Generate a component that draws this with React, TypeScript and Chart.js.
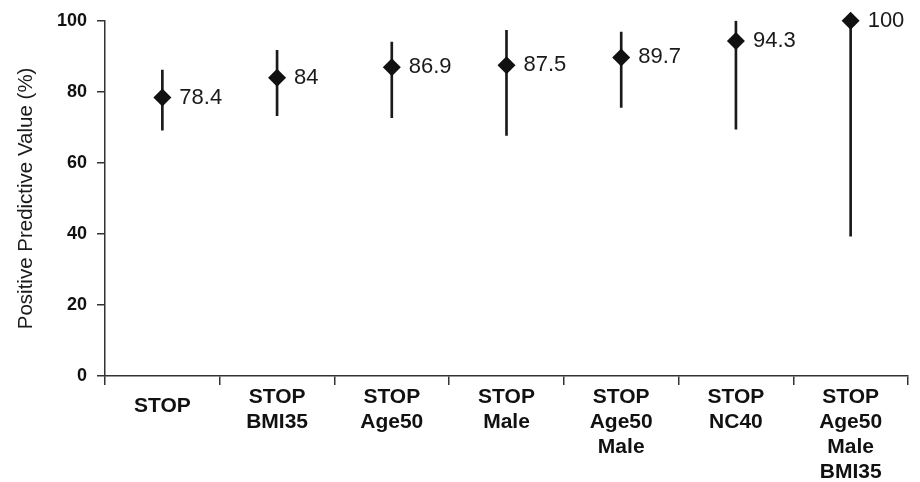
import React, { useEffect, useRef } from "react";
import { Chart, registerables } from "chart.js";

Chart.register(...registerables);

const categories: string[][] = [
  ["STOP"],
  ["STOP", "BMI35"],
  ["STOP", "Age50"],
  ["STOP", "Male"],
  ["STOP", "Age50", "Male"],
  ["STOP", "NC40"],
  ["STOP", "Age50", "Male", "BMI35"],
];
const ppv: number[] = [78.4, 84, 86.9, 87.5, 89.7, 94.3, 100];
const ciLow: number[] = [69.2, 73.3, 72.7, 67.7, 75.6, 69.5, 39.4];
const ciHigh: number[] = [86.1, 91.7, 94.0, 97.3, 96.8, 100, 100];
const yTicks: number[] = [0, 20, 40, 60, 80, 100];

const FAMILY = "'Liberation Sans', Arial, Helvetica, sans-serif";

const valueLabels = {
  id: "valueLabels",
  afterDatasetsDraw(chart: any) {
    const meta = chart.getDatasetMeta(1);
    const ctx = chart.ctx;
    ctx.save();
    ctx.font = `22px ${FAMILY}`;
    ctx.fillStyle = "#1a1a1a";
    ctx.textAlign = "left";
    ctx.textBaseline = "middle";
    meta.data.forEach((el: any, i: number) => {
      ctx.fillText(String(ppv[i]), el.x + 17, el.y);
    });
    ctx.restore();
  },
};

export default function App() {
  const ref = useRef<HTMLCanvasElement>(null);
  useEffect(() => {
    if (!ref.current) return;
    const chart = new Chart(ref.current, {
      data: {
        labels: categories,
        datasets: [
          {
            type: "bar",
            data: ciLow.map((l, i) => [l, ciHigh[i]]),
            backgroundColor: "#1a1a1a",
            borderWidth: 0,
            barThickness: 2,
            order: 2,
          } as any,
          {
            type: "line",
            data: ppv,
            showLine: false,
            pointStyle: "rectRot",
            pointRadius: 9,
            pointBackgroundColor: "#111",
            pointBorderColor: "#111",
            pointBorderWidth: 0,
            clip: false,
            order: 1,
          } as any,
        ],
      },
      options: {
        animation: false,
        responsive: true,
        maintainAspectRatio: false,
        events: [],
        layout: { padding: { top: 18, right: 12, left: 0, bottom: 0 } },
        plugins: { legend: { display: false }, tooltip: { enabled: false } },
        scales: {
          x: {
            type: "category",
            offset: true,
            grid: {
              offset: true,
              drawOnChartArea: false,
              drawTicks: true,
              tickLength: 9,
              color: "#333",
              lineWidth: 1.5,
            },
            border: { color: "#333", width: 1.5 },
            ticks: {
              color: "#111",
              padding: 0,
              maxRotation: 0,
              autoSkip: false,
              font: (c: any) => ({
                family: FAMILY,
                size: 21,
                weight: "bold",
                lineHeight: c.index === 0 ? 43 / 21 : 25 / 21,
              }),
            },
            afterFit: (s: any) => {
              s.height = 106;
            },
          },
          y: {
            min: 0,
            max: 100,
            afterBuildTicks: (s: any) => {
              s.ticks = yTicks.map((v) => ({ value: v }));
            },
            grid: {
              drawOnChartArea: false,
              drawTicks: true,
              tickLength: 8,
              color: "#333",
              lineWidth: 1.5,
            },
            border: { color: "#333", width: 1.5 },
            ticks: {
              color: "#111",
              padding: 10,
              font: { family: FAMILY, size: 18, weight: "bold" },
            },
            title: {
              display: true,
              text: "Positive Predictive Value (%)",
              color: "#1a1a1a",
              font: { family: FAMILY, size: 20.5 },
              padding: { top: 14, bottom: 0 },
            },
            afterFit: (s: any) => {
              s.width = 105;
            },
          },
        },
      },
      plugins: [valueLabels],
    });
    return () => chart.destroy();
  }, []);
  return (
    <div style={{ position: "fixed", left: 0, top: 0, width: 920, height: 482, background: "#fff" }}>
      <canvas ref={ref} />
    </div>
  );
}
